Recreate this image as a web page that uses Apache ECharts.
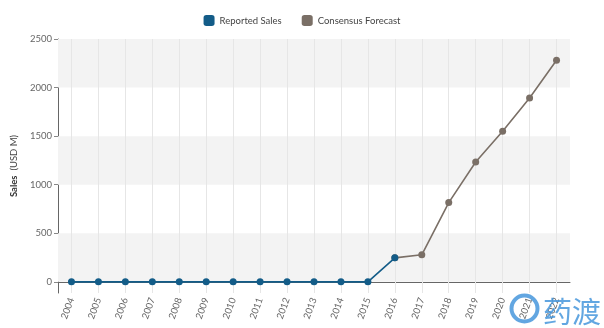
<!DOCTYPE html>
<html>
<head>
<meta charset="utf-8">
<script src="https://cdn.jsdelivr.net/npm/echarts@6/dist/echarts.min.js"></script>
<style>
  html, body { margin: 0; padding: 0; background: #fff; }
  #chart { width: 604px; height: 328px; }
</style>
</head>
<body>
<div id="chart"></div>
<script>
// Annual sales, USD millions
const years = ['2004','2005','2006','2007','2008','2009','2010','2011','2012','2013','2014','2015','2016','2017','2018','2019','2020','2021','2022'];
const reportedSales = [0,0,0,0,0,0,0,0,0,0,0,0,247,null,null,null,null,null,null];
const consensusForecast = [null,null,null,null,null,null,null,null,null,null,null,null,247,278,816,1234,1550,1893,2281];
const yTicks = [0,500,1000,1500,2000,2500];
const bands = [[0,500],[1000,1500],[2000,2500]];

const FONT = 'Lato';
const chart = echarts.init(document.getElementById('chart'));

chart.setOption({
  animation: false,
  textStyle: { fontFamily: FONT },
  legend: {
    top: 10,
    left: 'center',
    itemWidth: 11,
    itemHeight: 11,
    itemGap: 20,
    icon: 'roundRect',
    textStyle: { fontSize: 9.5, color: '#444', fontFamily: FONT },
    data: ['Reported Sales', 'Consensus Forecast']
  },
  grid: { left: 58, right: 34, top: 39, bottom: 35 },
  xAxis: {
    type: 'category',
    data: years,
    boundaryGap: true,
    axisLine: { lineStyle: { color: '#666', width: 1 } },
    axisTick: { alignWithLabel: true, length: 5, lineStyle: { color: '#888' } },
    axisLabel: { rotate: 70, fontSize: 9.5, color: '#666', margin: 5, fontFamily: FONT, interval: 0 },
    splitLine: { show: false }
  },
  yAxis: {
    type: 'value',
    min: -115,
    max: 2500,
    name: '{b|Sales}  (USD M)',
    nameLocation: 'middle',
    nameGap: 34,
    nameTextStyle: {
      fontSize: 9.5, color: '#444', fontFamily: FONT,
      rich: { b: { fontWeight: 'bold', fontSize: 9.5, color: '#333', fontFamily: FONT } }
    },
    axisLine: { show: true, lineStyle: { color: '#666', width: 1 } },
    axisTick: { show: true, length: 4, customValues: yTicks, lineStyle: { color: '#888' } },
    axisLabel: {
      fontSize: 9.5, color: '#666', margin: 6, customValues: yTicks, fontFamily: FONT,
      formatter: v => String(v)
    },
    splitLine: { show: false }
  },
  series: [
    {
      // background: alternating bands and vertical category grid lines
      name: 'grid',
      type: 'line',
      data: [],
      z: 1,
      silent: true,
      markArea: {
        silent: true,
        z: 1,
        itemStyle: { color: '#f3f3f3' },
        data: bands.map(b => [{ yAxis: b[0] }, { yAxis: b[1] }])
      },
      markLine: {
        silent: true,
        z: 1,
        symbol: 'none',
        label: { show: false },
        lineStyle: { color: '#e6e6e6', width: 1, type: 'solid' },
        data: years.map(y => ({ xAxis: y }))
      }
    },
    {
      name: 'Consensus Forecast',
      type: 'line',
      data: consensusForecast,
      color: '#7a6f66',
      symbol: 'circle',
      symbolSize: 7,
      lineStyle: { width: 1.6, color: '#7a6f66' },
      itemStyle: { color: '#7a6f66' },
      z: 3
    },
    {
      name: 'Reported Sales',
      type: 'line',
      data: reportedSales,
      color: '#135c88',
      symbol: 'circle',
      symbolSize: 7,
      lineStyle: { width: 1.6, color: '#135c88' },
      itemStyle: { color: '#135c88' },
      z: 4
    }
  ],
  graphic: [
    {
      type: 'text',
      right: 3,
      bottom: 2,
      z: 10,
      style: {
        text: '药渡',
        fontSize: 29,
        fontFamily: 'Noto Sans CJK SC',
        fill: 'rgba(70,150,220,0.85)'
      }
    },
    {
      type: 'circle',
      right: 64,
      bottom: 4,
      z: 10,
      shape: { r: 13 },
      style: { fill: 'none', stroke: 'rgba(70,150,220,0.85)', lineWidth: 4 }
    }
  ]
});
</script>
</body>
</html>
